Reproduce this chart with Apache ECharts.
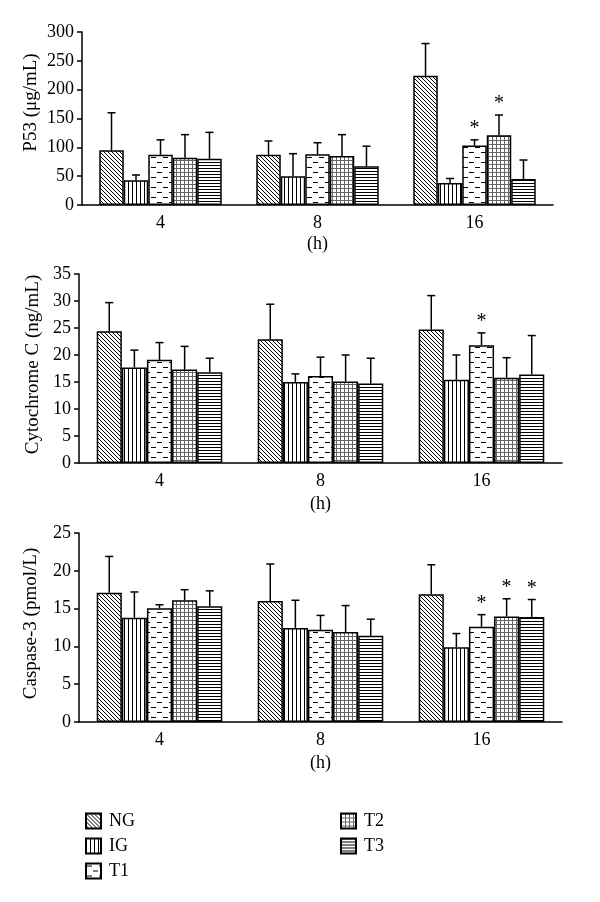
<!DOCTYPE html>
<html>
<head>
<meta charset="utf-8">
<script src="https://cdn.jsdelivr.net/npm/echarts@6/dist/echarts.min.js"></script>
<style>html,body{margin:0;padding:0;background:#fff}#c{width:600px;height:902px}</style>
</head>
<body>
<div id="c"></div>
<script>
const times = ['4', '8', '16'];
const groups = ['NG', 'IG', 'T1', 'T2', 'T3'];
// means and SDs: rows = groups (NG, IG, T1, T2, T3), columns = times (4, 8, 16 h)
const p53Mean = [[95, 87, 224], [43, 50, 38], [87, 88, 103], [82, 85, 121], [80, 67, 45]];
const p53SD   = [[65, 24, 56], [9, 39, 8], [26, 20, 10], [40, 37, 35], [46, 35, 33]];
const cytMean = [[24.4, 22.9, 24.7], [17.7, 15.0, 15.4], [19.1, 16.1, 21.8], [17.3, 15.1, 15.8], [16.8, 14.7, 16.4]];
const cytSD   = [[5.3, 6.5, 6.3], [3.2, 1.5, 4.6], [3.2, 3.5, 2.3], [4.3, 4.9, 3.7], [2.6, 4.7, 7.2]];
const casMean = [[17.1, 16.0, 16.9], [13.8, 12.45, 9.9], [15.05, 12.2, 12.6], [16.1, 11.9, 13.95], [15.3, 11.4, 13.9]];
const casSD   = [[4.8, 4.9, 3.9], [3.4, 3.65, 1.8], [0.45, 1.9, 1.6], [1.4, 3.5, 2.35], [2.05, 2.2, 2.3]];
// significance stars: [timeIndex, groupIndex]
const p53Stars = [[2, 2], [2, 3]];
const cytStars = [[2, 2]];
const casStars = [[2, 2], [2, 3], [2, 4]];
const yNames = ['P53 (μg/mL)', 'Cytochrome C (ng/mL)', 'Caspase-3 (pmol/L)'];
const yMax = [300, 35, 25];
const yInterval = [50, 5, 5];

const FONT = 'Liberation Serif';
const GAP = 0.22;

function makePattern(kind) {
  const c = document.createElement('canvas');
  let w = 4, h = 4;
  if (kind === 'T1') { w = 12; h = 10; }
  if (kind === 'T3') { w = 4; h = 3; }
  c.width = w; c.height = h;
  const ctx = c.getContext('2d');
  ctx.fillStyle = '#fff';
  ctx.fillRect(0, 0, w, h);
  ctx.strokeStyle = '#000';
  ctx.lineWidth = 1;
  ctx.beginPath();
  if (kind === 'NG') {
    ctx.moveTo(-1, -1); ctx.lineTo(w + 1, h + 1);
    ctx.moveTo(-1, h - 1); ctx.lineTo(1, h + 1);
    ctx.moveTo(w - 1, -1); ctx.lineTo(w + 1, 1);
  } else if (kind === 'IG') {
    ctx.moveTo(0.5, 0); ctx.lineTo(0.5, h);
  } else if (kind === 'T1') {
    ctx.moveTo(1, 2.5); ctx.lineTo(6, 2.5);
    ctx.moveTo(7, 7.5); ctx.lineTo(12, 7.5);
  } else if (kind === 'T2') {
    ctx.strokeStyle = '#666';
    ctx.moveTo(0.5, 0); ctx.lineTo(0.5, h);
    ctx.moveTo(0, 0.5); ctx.lineTo(w, 0.5);
  } else if (kind === 'T3') {
    ctx.moveTo(0, 0.5); ctx.lineTo(w, 0.5);
  }
  ctx.stroke();
  return { image: c, repeat: 'repeat' };
}
const patterns = groups.map(makePattern);

const grids = [
  { left: 82, top: 32, width: 471, height: 173 },
  { left: 79, top: 274, width: 483, height: 189 },
  { left: 79, top: 533, width: 483, height: 189 }
];
const means = [p53Mean, cytMean, casMean];
const sds = [p53SD, cytSD, casSD];
const stars = [p53Stars, cytStars, casStars];
const nameGaps = [41, 36, 38];

const xAxes = [], yAxes = [], series = [];
grids.forEach((g, k) => {
  xAxes.push({
    type: 'category', gridIndex: k, data: times,
    name: '(h)', nameLocation: 'middle', nameGap: k === 0 ? 30 : 32,
    nameMoveOverlap: false,
    nameTextStyle: { fontFamily: FONT, fontSize: 18, color: '#000' },
    axisLine: { lineStyle: { color: '#000', width: 1.5 } },
    axisTick: { inside: true, length: 5, lineStyle: { color: '#000', width: 1.5 } },
    axisLabel: { fontFamily: FONT, fontSize: 18, color: '#000', margin: 9 }
  });
  yAxes.push({
    type: 'value', gridIndex: k, min: 0, max: yMax[k], interval: yInterval[k],
    name: yNames[k], nameLocation: 'middle', nameGap: nameGaps[k],
    nameMoveOverlap: false,
    nameTextStyle: { fontFamily: FONT, fontSize: 19, color: '#000',
      padding: k === 0 ? [0, 0, 0, 32] : [0, 0, 0, 8] },
    axisLine: { show: true, lineStyle: { color: '#000', width: 1.5 } },
    axisTick: { show: true, inside: false, length: 5, lineStyle: { color: '#000', width: 1.5 } },
    axisLabel: { fontFamily: FONT, fontSize: 18, color: '#000', margin: 8 },
    splitLine: { show: false }
  });
  groups.forEach((name, i) => {
    series.push({
      type: 'bar', name: name, xAxisIndex: k, yAxisIndex: k,
      data: means[k][i],
      barGap: '0%', barCategoryGap: (GAP * 100) + '%',
      itemStyle: { color: patterns[i], borderColor: '#000', borderWidth: 1.5 },
      emphasis: { disabled: true }, animation: false
    });
  });
  const eb = [];
  groups.forEach((name, i) => {
    times.forEach((t, j) => {
      const s = stars[k].some(p => p[0] === j && p[1] === i) ? 1 : 0;
      eb.push([j, i, means[k][i][j], sds[k][i][j], s]);
    });
  });
  series.push({
    type: 'custom', xAxisIndex: k, yAxisIndex: k, data: eb, z: 5,
    encode: { x: 0, y: 2 }, animation: false, silent: true,
    renderItem: function (params, api) {
      const t = api.value(0), gi = api.value(1), m = api.value(2), sd = api.value(3), st = api.value(4);
      const p0 = api.coord([t, m]);
      const p1 = api.coord([t, m + sd]);
      const bw = api.size([1, 0])[0] * (1 - GAP) / 5;
      const x = p0[0] - 2.5 * bw + (gi + 0.5) * bw;
      const style = { stroke: '#000', lineWidth: 1.5 };
      const children = [
        { type: 'line', shape: { x1: x, y1: p0[1], x2: x, y2: p1[1] }, style: style },
        { type: 'line', shape: { x1: x - 4, y1: p1[1], x2: x + 4, y2: p1[1] }, style: style }
      ];
      if (st) {
        children.push({ type: 'text', style: { text: '*', x: x, y: p1[1] - 1,
          align: 'center', verticalAlign: 'bottom', fill: '#000',
          font: '20px "' + FONT + '"' } });
      }
      return { type: 'group', children: children };
    }
  });
});

const legendCommon = {
  orient: 'vertical', icon: 'rect', itemWidth: 15, itemHeight: 15, itemGap: 7,
  selectedMode: false,
  textStyle: { fontFamily: FONT, fontSize: 18, color: '#000', lineHeight: 15, padding: [0, 0, 0, 3] }
};

const chart = echarts.init(document.getElementById('c'), null, { renderer: 'canvas' });
chart.setOption({
  animation: false,
  backgroundColor: '#fff',
  grid: grids,
  xAxis: xAxes,
  yAxis: yAxes,
  legend: [
    Object.assign({ left: 80, top: 807, data: ['NG', 'IG', 'T1'] }, legendCommon),
    Object.assign({ left: 335, top: 807, data: ['T2', 'T3'] }, legendCommon)
  ],
  series: series
});
</script>
</body>
</html>
